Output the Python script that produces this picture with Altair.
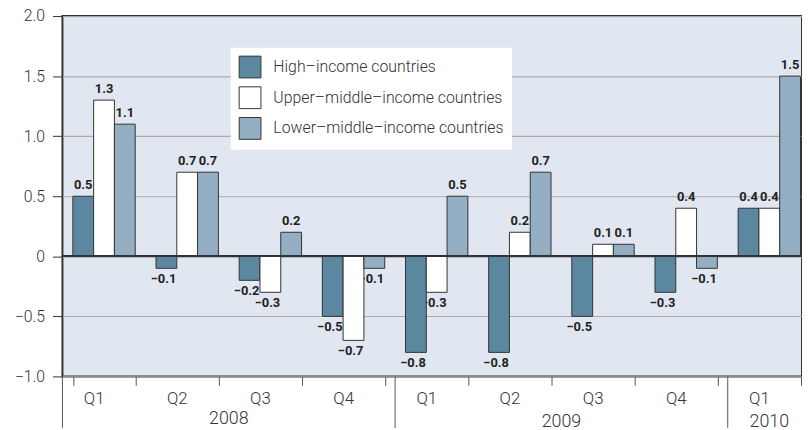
import altair as alt
import pandas as pd

quarters = ["2008 Q1", "2008 Q2", "2008 Q3", "2008 Q4",
            "2009 Q1", "2009 Q2", "2009 Q3", "2009 Q4", "2010 Q1"]
series = ["High–income countries", "Upper–middle–income countries",
          "Lower–middle–income countries"]
high = [0.5, -0.1, -0.2, -0.5, -0.8, -0.8, -0.5, -0.3, 0.4]
upper = [1.3, 0.7, -0.3, -0.7, -0.3, 0.2, 0.1, 0.4, 0.4]
lower = [1.1, 0.7, 0.2, -0.1, 0.5, 0.7, 0.1, -0.1, 1.5]
colors = ["#5b87a1", "#ffffff", "#94afc4"]
years = ["2008", "2009", "2010"]
year_first_q = ["2008 Q1", "2009 Q1", "2010 Q1"]
year_label_q = ["2008 Q2", "2009 Q2", "2010 Q1"]
y_ticks = [-1.0, -0.5, 0.0, 0.5, 1.0, 1.5, 2.0]

rows = []
for s, vals in zip(series, [high, upper, lower]):
    for q, v in zip(quarters, vals):
        rows.append({"q": q, "s": s, "v": v,
                     "label": ("−" if v < 0 else "") + f"{abs(v):.1f}"})
df = pd.DataFrame(rows)
ydf = pd.DataFrame({"year": years, "first": year_first_q, "q": year_label_q})
sep = pd.DataFrame({"q": year_first_q})

FONT = "Roboto"
DARK = "#333333"

xs = alt.Scale(domain=quarters, range=[0, 756], paddingInner=0.25, paddingOuter=0.125)
x_main = alt.X("q:N", scale=xs, sort=quarters, title=None,
               axis=alt.Axis(labelExpr="split(datum.label, ' ')[1]", domain=False,
                             tickBand="extent", tickSize=9, tickColor="#555555",
                             tickWidth=1, labelPadding=13, labelFont=FONT,
                             labelFontWeight=300, labelFontSize=17, labelColor=DARK,
                             labelAngle=0, grid=False))


def xq(band=0.5):
    return alt.X("q:N", scale=xs, sort=quarters, title=None, bandPosition=band)


xoff = alt.XOffset("s:N", sort=series, scale=alt.Scale(domain=series))
y_main = alt.Y("v:Q", scale=alt.Scale(domain=[-1, 2], nice=False), title=None,
               axis=alt.Axis(values=y_ticks,
                             labelExpr="datum.value == 0 ? '0' : format(datum.value, '.1f')",
                             grid=True, gridColor="#a8a9ab", gridWidth=1.2, domain=False,
                             tickColor=DARK, tickSize=10, labelPadding=8,
                             labelFont=FONT, labelFontWeight=300, labelFontSize=16,
                             labelColor=DARK))

base = alt.Chart(df)

txt_style = dict(font=FONT, fontWeight="bold", fontSize=13, color="#222222")

pos_txt = base.transform_filter("datum.v > 0").mark_text(
    baseline="bottom", dy=-4, **txt_style
).encode(x=alt.X("q:N", scale=xs, sort=quarters, title=None), xOffset=xoff,
         y=y_main, text="label:N")

neg_txt = base.transform_filter("datum.v < 0").mark_text(
    baseline="top", align="right", dy=5, dx=10, **txt_style
).encode(x=alt.X("q:N", scale=xs, sort=quarters, title=None), xOffset=xoff,
         y=alt.Y("v:Q", title=None), text="label:N")

bars = base.mark_bar(stroke=DARK, strokeWidth=1).encode(
    x=x_main, xOffset=xoff, y=alt.Y("v:Q", title=None),
    fill=alt.Fill("s:N", sort=series, scale=alt.Scale(domain=series, range=colors),
                  legend=alt.Legend(title=None, orient="none", legendX=170, legendY=32,
                                    fillColor="white", padding=8, symbolType="square",
                                    symbolSize=484, symbolStrokeColor=DARK,
                                    symbolStrokeWidth=1, symbolOpacity=1,
                                    labelFont=FONT, labelFontWeight=300,
                                    labelFontSize=16, labelColor=DARK,
                                    labelOffset=12, rowPadding=4, labelLimit=400)),
)

zero = alt.Chart(df).mark_rule(color=DARK, strokeWidth=1.5).encode(y=alt.datum(0))

seps = alt.Chart(sep).mark_rule(color="#555555", strokeWidth=1, xOffset=-10.5).encode(
    x=xq(0), y=alt.value(364), y2=alt.value(416))

yr_style = dict(font=FONT, fontWeight=300, fontSize=18, color=DARK,
                align="center", baseline="alphabetic")
yr08 = alt.Chart(ydf).transform_filter("datum.year == '2008'").mark_text(dx=10.5, **yr_style).encode(
    x=xq(1), y=alt.value(412), text="year:N")
yr09 = alt.Chart(ydf).transform_filter("datum.year == '2009'").mark_text(dx=10.5, **yr_style).encode(
    x=xq(1), y=alt.value(415), text="year:N")
yr10 = alt.Chart(ydf).transform_filter("datum.year == '2010'").mark_text(**yr_style).encode(
    x=xq(0.5), y=alt.value(415), text="year:N")

chart = alt.layer(pos_txt, neg_txt, bars, zero, seps, yr08, yr09, yr10).properties(
    width=747, height=364,
    autosize=alt.AutoSizeParams(type="none"),
    padding={"left": 55, "top": 6, "right": 0, "bottom": 52},
    background="white",
).configure_view(
    fill="#e1e7f0", stroke=DARK, strokeWidth=2
)

chart.save("out.html", embed_options={"renderer": "svg", "actions": False})
